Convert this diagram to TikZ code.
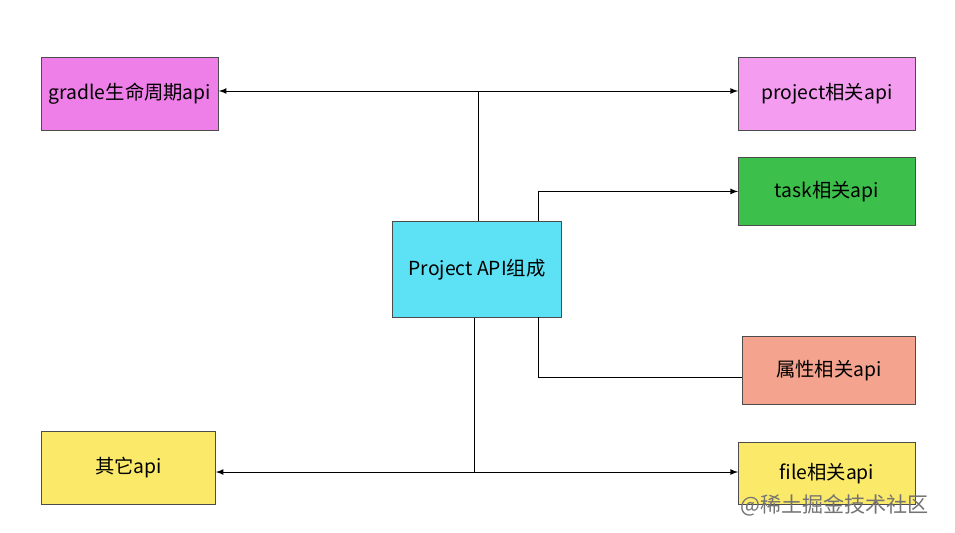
\documentclass[tikz,border=0pt]{standalone}
\usepackage{fontspec}
\setmainfont{Noto Sans CJK SC}
\begin{document}
\begin{tikzpicture}[x=0.02cm,y=-0.02cm,
  box/.style={draw=black!70,line width=0.5pt,anchor=north west,inner sep=0pt,font=\fontsize{11}{13}\selectfont},
  arr/.style={-latex,line width=0.5pt},
  ln/.style={line width=0.5pt}]
\useasboundingbox[fill=white] (0,0) rectangle (955,533);
\node[box,fill={rgb,255:red,238;green,126;blue,232},minimum width=177*0.02cm,minimum height=73*0.02cm] (g) at (41,57) {gradle生命周期api};
\node[box,fill={rgb,255:red,244;green,156;blue,240},minimum width=177*0.02cm,minimum height=73*0.02cm] (p) at (738,57) {project相关api};
\node[box,fill={rgb,255:red,61;green,191;blue,76},minimum width=177*0.02cm,minimum height=68*0.02cm] (t) at (738,157) {task相关api};
\node[box,fill={rgb,255:red,93;green,225;blue,245},minimum width=169*0.02cm,minimum height=96*0.02cm] (c) at (392,221) {Project API组成};
\node[box,fill={rgb,255:red,244;green,164;blue,142},minimum width=173*0.02cm,minimum height=68*0.02cm] (s) at (742,336) {属性相关api};
\node[box,fill={rgb,255:red,251;green,234;blue,106},minimum width=174*0.02cm,minimum height=73*0.02cm] (o) at (41,431) {其它api};
\node[box,fill={rgb,255:red,251;green,234;blue,106},minimum width=177*0.02cm,minimum height=62*0.02cm] (f) at (738,442) {file相关api};
\coordinate (top) at (478,91);
\coordinate (bot) at (474,472);
\draw[ln] (c.north -| top) -- (top);
\draw[arr] (top) -- (g.east |- top);
\draw[arr] (top) -- (p.west |- top);
\draw[ln] (c.south -| bot) -- (bot);
\draw[arr] (bot) -- (o.east |- bot);
\draw[arr] (bot) -- (f.west |- bot);
\draw[arr] (538,221) |- (t.west);
\draw[ln] (538,317) |- (s.west |- 0,377);
\node[text=black!55,font=\fontsize{12}{14}\selectfont,anchor=east] (wm) at (935,505) {@稀土掘金技术社区};
\end{tikzpicture}
\end{document}
